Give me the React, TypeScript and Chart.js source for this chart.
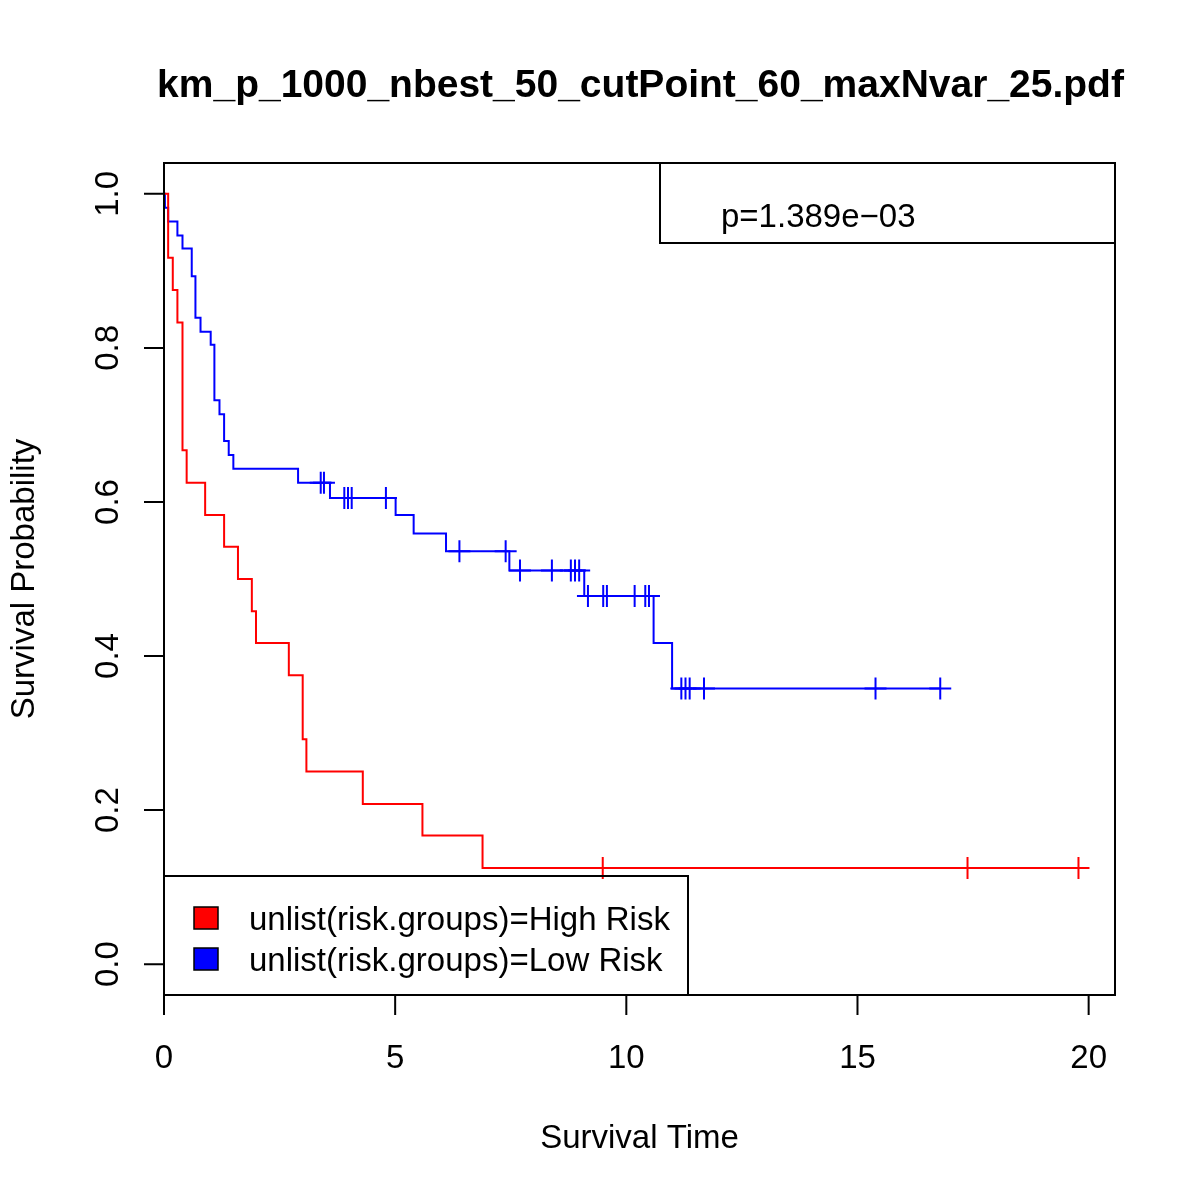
import React, { useEffect, useRef } from "react";
import { Chart, registerables } from "chart.js";

Chart.register(...registerables);

const titleText = "km_p_1000_nbest_50_cutPoint_60_maxNvar_25.pdf";
const xAxisTitle = "Survival Time";
const yAxisTitle = "Survival Probability";
const pValueLabel = "p=1.389e\u221203";
const seriesNames = ["unlist(risk.groups)=High Risk", "unlist(risk.groups)=Low Risk"];
const seriesColors = ["#FF0000", "#0000FF"];

const xTicks = [0, 5, 10, 15, 20];
const xTickLabels = ["0", "5", "10", "15", "20"];
const yTicks = [0, 0.2, 0.4, 0.6, 0.8, 1.0];
const yTickLabels = ["0.0", "0.2", "0.4", "0.6", "0.8", "1.0"];

const xMin = 0;
const xMax = 20.57;
const yMin = -0.04;
const yMax = 1.04;

// High Risk group: step times and survival after each step
const highRiskTimes = [0, 0.09, 0.19, 0.29, 0.4, 0.49, 0.89, 1.3, 1.6, 1.9, 1.99, 2.7, 3.0, 3.08, 4.3, 5.59, 6.89, 19.78];
const highRiskSurv = [1.0, 0.917, 0.875, 0.833, 0.667, 0.625, 0.583, 0.542, 0.5, 0.458, 0.417, 0.375, 0.292, 0.25, 0.208, 0.167, 0.125, 0.125];
const highRiskCensorTimes = [9.49, 17.38, 19.78];
const highRiskCensorSurv = [0.125, 0.125, 0.125];

// Low Risk group
const lowRiskTimes = [0, 0.02, 0.09, 0.29, 0.4, 0.6, 0.68, 0.79, 1.01, 1.09, 1.2, 1.3, 1.4, 1.5, 2.9, 3.59, 5.01, 5.4, 6.1, 7.47, 9.09, 10.59, 10.99, 16.79];
const lowRiskSurv = [1.0, 0.982, 0.964, 0.946, 0.929, 0.893, 0.839, 0.821, 0.804, 0.732, 0.714, 0.679, 0.661, 0.643, 0.625, 0.605, 0.583, 0.559, 0.536, 0.511, 0.478, 0.417, 0.358, 0.358];
const lowRiskCensorTimes = [3.39, 3.46, 3.9, 3.98, 4.06, 4.8, 6.39, 7.39, 7.7, 8.39, 8.8, 8.89, 8.98, 9.17, 9.5, 9.58, 10.18, 10.41, 10.49, 11.19, 11.28, 11.37, 11.68, 15.39, 16.79];
const lowRiskCensorSurv = [0.625, 0.625, 0.605, 0.605, 0.605, 0.605, 0.536, 0.536, 0.511, 0.511, 0.511, 0.511, 0.511, 0.478, 0.478, 0.478, 0.478, 0.478, 0.478, 0.358, 0.358, 0.358, 0.358, 0.358, 0.358];

const FONT = '"Liberation Sans", Arial, Helvetica, sans-serif';

const toPoints = (xs: number[], ys: number[]) => xs.map((x, i) => ({ x, y: ys[i] }));

const decorPlugin = {
  id: "rDecor",
  afterDraw(chart: any) {
    const ctx = chart.ctx as CanvasRenderingContext2D;
    const area = chart.chartArea;
    const xs = chart.scales.x;
    const ys = chart.scales.y;
    ctx.save();
    ctx.strokeStyle = "#000";
    ctx.fillStyle = "#000";
    ctx.lineWidth = 2;
    ctx.lineCap = "butt";

    // box
    ctx.strokeRect(area.left, area.top, area.right - area.left, area.bottom - area.top);

    // x axis
    const x0 = xs.getPixelForValue(xTicks[0]);
    const x1 = xs.getPixelForValue(xTicks[xTicks.length - 1]);
    ctx.beginPath();
    ctx.moveTo(x0, area.bottom);
    ctx.lineTo(x1, area.bottom);
    xTicks.forEach((t) => {
      const px = xs.getPixelForValue(t);
      ctx.moveTo(px, area.bottom);
      ctx.lineTo(px, area.bottom + 20);
    });
    ctx.stroke();
    ctx.font = `33px ${FONT}`;
    ctx.textAlign = "center";
    ctx.textBaseline = "alphabetic";
    xTicks.forEach((t, i) => {
      ctx.fillText(xTickLabels[i], xs.getPixelForValue(t), 1068);
    });

    // y axis
    const y0 = ys.getPixelForValue(yTicks[0]);
    const y1 = ys.getPixelForValue(yTicks[yTicks.length - 1]);
    ctx.beginPath();
    ctx.moveTo(area.left, y0);
    ctx.lineTo(area.left, y1);
    yTicks.forEach((t) => {
      const py = ys.getPixelForValue(t);
      ctx.moveTo(area.left, py);
      ctx.lineTo(area.left - 20, py);
    });
    ctx.stroke();
    yTicks.forEach((t, i) => {
      ctx.save();
      ctx.translate(118, ys.getPixelForValue(t));
      ctx.rotate(-Math.PI / 2);
      ctx.fillText(yTickLabels[i], 0, 0);
      ctx.restore();
    });

    // axis titles
    ctx.fillText(xAxisTitle, (area.left + area.right) / 2, 1148);
    ctx.save();
    ctx.translate(34, (area.top + area.bottom) / 2);
    ctx.rotate(-Math.PI / 2);
    ctx.fillText(yAxisTitle, 0, 0);
    ctx.restore();

    // title
    ctx.font = `bold 39px ${FONT}`;
    ctx.fillText(titleText, (area.left + area.right) / 2 + 1, 97);

    // p-value box
    ctx.strokeRect(660, area.top, area.right - 660, 243 - area.top);
    ctx.font = `33px ${FONT}`;
    ctx.textAlign = "left";
    ctx.fillText(pValueLabel, 721, 227);

    // legend box
    ctx.strokeRect(area.left, 876, 688 - area.left, area.bottom - 876);
    const rowBase = [930, 971];
    seriesNames.forEach((name, i) => {
      const cy = rowBase[i] - 12;
      ctx.fillStyle = seriesColors[i];
      ctx.fillRect(194, cy - 11, 24, 22);
      ctx.lineWidth = 1.5;
      ctx.strokeStyle = "#000";
      ctx.strokeRect(194, cy - 11, 24, 22);
      ctx.fillStyle = "#000";
      ctx.fillText(name, 249, rowBase[i]);
    });
    ctx.restore();
  },
};

export default function App() {
  const canvasRef = useRef<HTMLCanvasElement | null>(null);

  useEffect(() => {
    const canvas = canvasRef.current;
    if (!canvas) return;
    const chart = new Chart(canvas, {
      type: "line",
      data: {
        datasets: [
          {
            label: seriesNames[0],
            data: toPoints(highRiskTimes, highRiskSurv),
            borderColor: seriesColors[0],
            borderWidth: 2,
            stepped: "before",
            pointRadius: 0,
            fill: false,
            tension: 0,
          },
          {
            label: seriesNames[1],
            data: toPoints(lowRiskTimes, lowRiskSurv),
            borderColor: seriesColors[1],
            borderWidth: 2,
            stepped: "before",
            pointRadius: 0,
            fill: false,
            tension: 0,
          },
          {
            type: "scatter",
            label: "High censored",
            data: toPoints(highRiskCensorTimes, highRiskCensorSurv),
            borderColor: seriesColors[0],
            backgroundColor: seriesColors[0],
            pointStyle: "cross",
            pointRadius: 11,
            pointBorderWidth: 2,
            showLine: false,
          } as any,
          {
            type: "scatter",
            label: "Low censored",
            data: toPoints(lowRiskCensorTimes, lowRiskCensorSurv),
            borderColor: seriesColors[1],
            backgroundColor: seriesColors[1],
            pointStyle: "cross",
            pointRadius: 11,
            pointBorderWidth: 2,
            showLine: false,
          } as any,
        ],
      },
      options: {
        animation: false,
        responsive: false,
        devicePixelRatio: 1,
        layout: { padding: { left: 164, right: 85, top: 163, bottom: 205 } },
        plugins: { legend: { display: false }, tooltip: { enabled: false }, title: { display: false } },
        events: [],
        scales: {
          x: { type: "linear", min: xMin, max: xMax, display: false },
          y: { type: "linear", min: yMin, max: yMax, display: false },
        },
      },
      plugins: [decorPlugin],
    });
    return () => chart.destroy();
  }, []);

  return (
    <div style={{ position: "absolute", left: 0, top: 0, width: 1200, height: 1200, background: "#fff" }}>
      <canvas ref={canvasRef} width={1200} height={1200} style={{ width: 1200, height: 1200 }} />
    </div>
  );
}
